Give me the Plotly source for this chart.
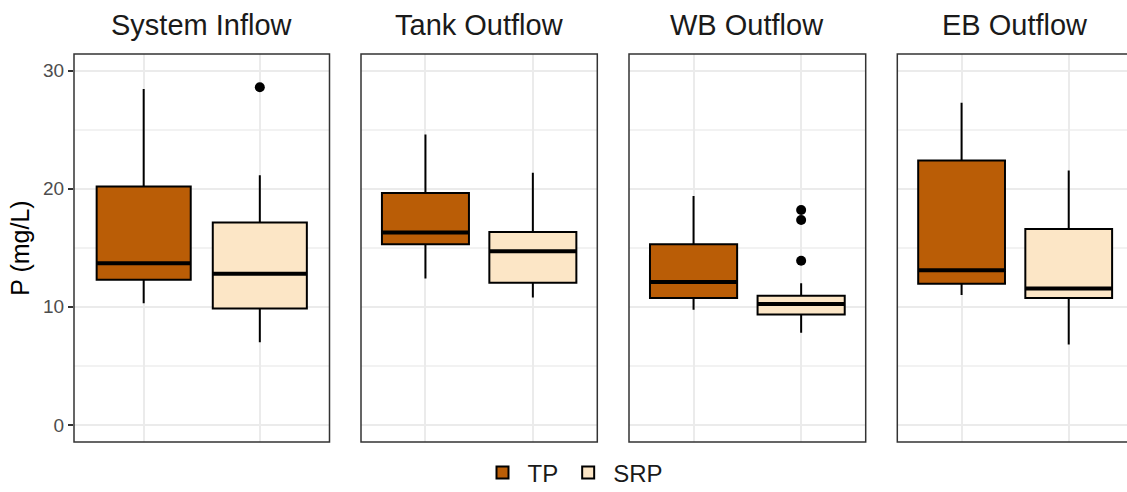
import plotly.graph_objects as go

# Phosphorus concentrations (mg/L) by sampling location: box statistics
panels = ["System Inflow", "Tank Outflow", "WB Outflow", "EB Outflow"]
species = ["TP", "SRP"]

tp_lower = [10.3, 12.4, 9.75, 11.0]
tp_q1 = [12.3, 15.3, 10.75, 11.95]
tp_median = [13.7, 16.3, 12.1, 13.1]
tp_q3 = [20.2, 19.65, 15.3, 22.4]
tp_upper = [28.45, 24.6, 19.4, 27.3]

srp_lower = [7.0, 10.8, 7.8, 6.8]
srp_q1 = [9.85, 12.05, 9.35, 10.75]
srp_median = [12.8, 14.7, 10.25, 11.55]
srp_q3 = [17.15, 16.35, 10.95, 16.6]
srp_upper = [21.15, 21.35, 12.0, 21.55]

tp_outliers = [[], [], [], []]
srp_outliers = [[28.6], [], [18.2, 17.35, 13.9], []]

colors = {"TP": "#BA5D06", "SRP": "#FCE6C6"}
stats = {
    "TP": (tp_lower, tp_q1, tp_median, tp_q3, tp_upper, tp_outliers),
    "SRP": (srp_lower, srp_q1, srp_median, srp_q3, srp_upper, srp_outliers),
}

W, H = 1127, 492
ML, MR, MT, MB = 74, 0, 54, 50
PW = W - ML - MR
PH = H - MT - MB

# panel edges in pixels (the last panel runs past the right edge)
panel_px = [(74, 329.5), (361, 597.3), (629, 865.7), (897.3, 1133)]
BOX_W = 0.81


def px_to_paper(x):
    return (x - ML) / PW


fig = go.Figure()
layout_axes = {}
for i, name in enumerate(panels):
    n = i + 1
    xa = "x" if n == 1 else f"x{n}"
    ya = "y" if n == 1 else f"y{n}"
    left, right = panel_px[i]
    vis_right = min(right, W)
    d0 = px_to_paper(left)
    d1 = min(1.0, px_to_paper(vis_right))
    full = right - left
    x_hi = 0.4 + 2.2 * (vis_right - left) / full

    for k, sp in enumerate(species):
        lo, q1, med, q3, hi, outl = stats[sp]
        pos = k + 1
        fig.add_trace(go.Box(
            x=[pos], q1=[q1[i]], median=[med[i]], q3=[q3[i]],
            lowerfence=[lo[i]], upperfence=[hi[i]],
            width=BOX_W, whiskerwidth=0, boxpoints=False,
            fillcolor=colors[sp], line=dict(color="black", width=2),
            name=sp, legendgroup=sp, showlegend=(i == 0),
            xaxis=xa, yaxis=ya, hoverinfo="skip",
        ))
        # heavier median bar
        fig.add_trace(go.Scatter(
            x=[pos - BOX_W / 2, pos + BOX_W / 2], y=[med[i], med[i]],
            mode="lines", line=dict(color="black", width=4),
            showlegend=False, xaxis=xa, yaxis=ya, hoverinfo="skip",
        ))
        if outl[i]:
            fig.add_trace(go.Scatter(
                x=[pos] * len(outl[i]), y=outl[i], mode="markers",
                marker=dict(color="black", size=10),
                showlegend=False, xaxis=xa, yaxis=ya, hoverinfo="skip",
            ))

    key_x = "xaxis" if n == 1 else f"xaxis{n}"
    key_y = "yaxis" if n == 1 else f"yaxis{n}"
    layout_axes[key_x] = dict(
        domain=[d0, d1], range=[0.4, x_hi], anchor=ya,
        tickvals=[1, 2], showticklabels=False, ticks="",
        showgrid=True, gridcolor="#EBEBEB", gridwidth=1.5,
        zeroline=False, showline=False, fixedrange=True,
    )
    layout_axes[key_y] = dict(
        domain=[0, 1], range=[-1.45, 31.42], anchor=xa,
        tickvals=[0, 10, 20, 30], showticklabels=(n == 1),
        ticks="outside" if n == 1 else "", ticklen=5, tickwidth=1.5,
        tickcolor="#333333",
        tickfont=dict(size=19, color="#4D4D4D"),
        showgrid=True, gridcolor="#EBEBEB", gridwidth=1.5,
        minor=dict(tickvals=[5, 15, 25], showgrid=True,
                   gridcolor="#F2F2F2", gridwidth=1.5),
        zeroline=False, showline=False,
    )
    if n == 1:
        layout_axes[key_y]["title"] = dict(
            text="P (mg/L)", font=dict(size=25, color="black"), standoff=6)

    # panel frame
    fig.add_shape(type="rect", xref="paper", yref="paper",
                  x0=px_to_paper(left), x1=px_to_paper(right), y0=0, y1=1,
                  line=dict(color="#333333", width=1.5), layer="above")
    # strip title
    fig.add_annotation(text=name, xref="paper", yref="paper",
                       x=px_to_paper((left + right) / 2 if n < 4 else left + 118),
                       y=1 + (MT - 25) / PH, yanchor="middle", xanchor="center",
                       showarrow=False, font=dict(size=29, color="#1A1A1A"))

fig.update_layout(
    width=W, height=H,
    margin=dict(l=ML, r=MR, t=MT, b=MB, autoexpand=False),
    paper_bgcolor="white", plot_bgcolor="white",
    font=dict(family="Liberation Sans, Arial, sans-serif"),
    legend=dict(orientation="h", x=px_to_paper(573), xanchor="center",
                y=-(473 - (H - MB)) / PH,
                yanchor="middle", font=dict(size=24, color="#1A1A1A"),
                itemwidth=40, bgcolor="rgba(0,0,0,0)"),
    showlegend=True,
    **layout_axes,
)

fig.write_html("out.html")
